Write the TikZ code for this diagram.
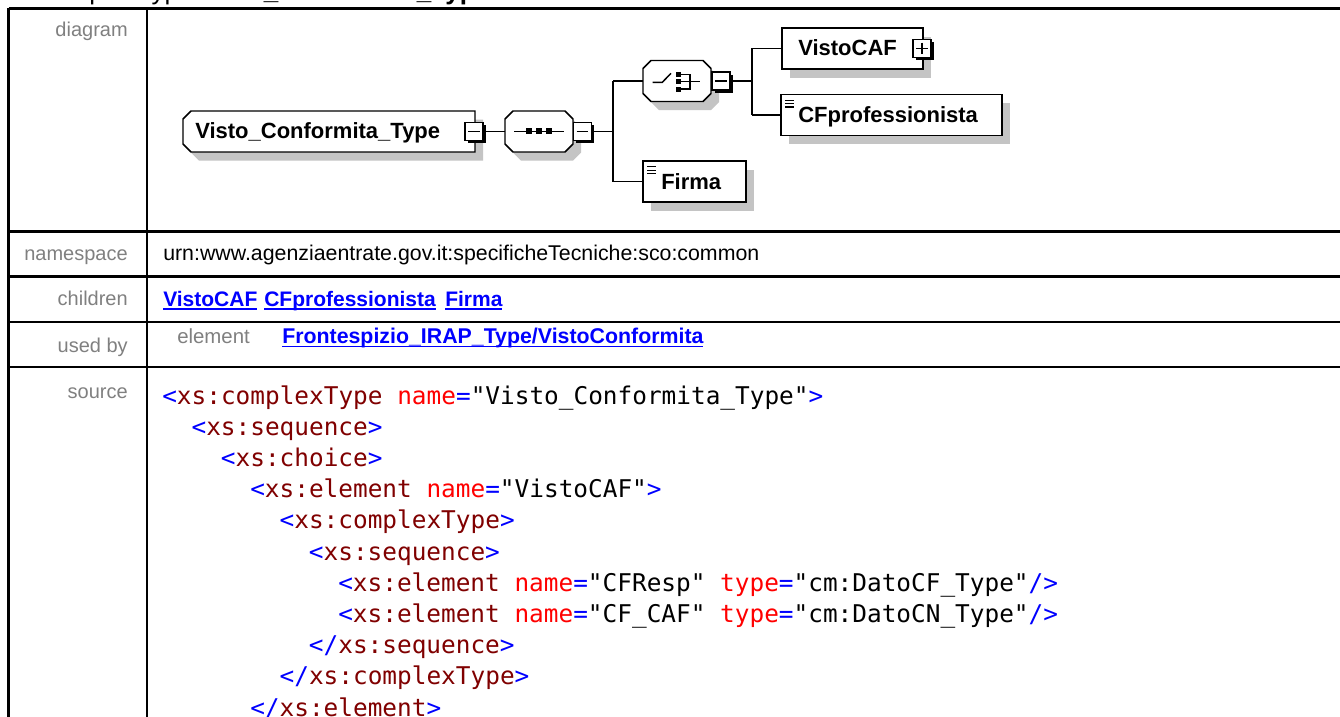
\documentclass[tikz,border=0pt]{standalone}
\usepackage{fontspec}
\setmainfont{Liberation Sans}
\setmonofont{DejaVu Sans Mono}
\usetikzlibrary{shadows}
\definecolor{lblgray}{RGB}{128,128,128}
\definecolor{lnkblue}{RGB}{0,0,255}
\definecolor{tagblue}{RGB}{0,0,255}
\definecolor{elmred}{RGB}{128,0,0}
\definecolor{attred}{RGB}{255,0,0}
\definecolor{shadowgray}{RGB}{196,196,196}
\newsavebox\lnkbox
\newcommand\lnk[1]{\sbox\lnkbox{#1}\rlap{\rule[-2.7pt]{\wd\lnkbox}{1.1pt}}\usebox\lnkbox}
\newcommand\Tg[1]{\textcolor{tagblue}{#1}}
\newcommand\En[1]{\textcolor{elmred}{#1}}
\newcommand\At[1]{\textcolor{attred}{#1}}
% chamfered outline: x1 y1 x2 y2 left-chamfer right-chamfer
\newcommand\chamfpath[6]{({#1+#5},#2) -- ({#3-#6},#2) -- (#3,{#2+#6}) -- (#3,{#4-#6}) -- ({#3-#6},#4) -- ({#1+#5},#4) -- (#1,{#4-#5}) -- (#1,{#2+#5}) -- cycle}
\tikzset{
  tbl/.style={line width=1.8pt},
  lbl/.style={anchor=base east, inner sep=0, text=lblgray, font=\fontsize{15}{18}\selectfont},
  cell/.style={anchor=base west, inner sep=0, font=\fontsize{16}{19}\selectfont},
  lnkstyle/.style={anchor=base west, inner sep=0, text=lnkblue, font=\bfseries\fontsize{15.75}{19}\selectfont},
  code/.style={anchor=base west, inner sep=0, font=\ttfamily\fontsize{18.3}{22}\selectfont},
  boxline/.style={line width=1.1pt},
  conn/.style={line width=1.1pt},
  shadowed/.style={drop shadow={fill=shadowgray, opacity=1, shadow xshift=6pt, shadow yshift=-6.5pt}},
  elembox/.style={rectangle, draw, boxline, fill=white, inner sep=0, shadowed},
  elemtext/.style={anchor=base west, inner sep=0, font=\bfseries\fontsize{16.5}{19}\selectfont},
  anchorbox/.style={rectangle, draw=none, inner sep=0},
  compshadow/.style={fill=shadowgray, shift={(8,8.7)}},
  compline/.style={boxline, fill=white},
  pm/.style={rectangle, draw, boxline, fill=white, minimum size=13.3pt, inner sep=0,
    drop shadow={fill=black, opacity=1, shadow xshift=2pt, shadow yshift=-2pt}},
  minusbox/.style={pm, path picture={\draw[line width=1.1pt] ([xshift=2.3pt]path picture bounding box.west) -- ([xshift=-2.3pt]path picture bounding box.east);}},
  plusbox/.style={pm, path picture={\draw[line width=1.1pt] ([xshift=2.3pt]path picture bounding box.west) -- ([xshift=-2.3pt]path picture bounding box.east);
      \draw[line width=1.1pt] ([yshift=-2.3pt]path picture bounding box.north) -- ([yshift=2.3pt]path picture bounding box.south);}},
  simpletype/.style={path picture={
      \foreach \dy in {4.3pt,6.9pt,9.5pt}{\draw[line width=1pt] ([xshift=3pt,yshift=-\dy]path picture bounding box.north west) -- ++(7pt,0);}}},
}
\begin{document}
\begin{tikzpicture}[x=0.75pt,y=-0.75pt]
\useasboundingbox (0,0) rectangle (1340,717);
\fill[white] (0,0) rectangle (1340,717);

% header (mostly cut off)
\node[anchor=base west, inner sep=0, font=\fontsize{19.5}{23}\selectfont] (hdr) at (40,-0.5) {complexType \textbf{Visto\_Conformita\_Type}};

% table
\draw[tbl] (8.5,8.5) -- (1345,8.5);
\draw[tbl] (8.5,7.6) -- (8.5,720);
\draw[tbl] (147,8.5) -- (147,720);
\draw[tbl] (8.5,231.5) -- (1345,231.5);
\draw[tbl] (8.5,276.5) -- (1345,276.5);
\draw[tbl] (8.5,322) -- (1345,322);
\draw[tbl] (8.5,367) -- (1345,367);

% labels
\node[lbl] (l-diagram) at (128,37) {diagram};
\node[lbl] (l-ns) at (128,260) {namespace};
\node[lbl] (l-children) at (128,305.5) {children};
\node[lbl] (l-usedby) at (128,352) {used by};
\node[lbl] (l-source) at (128,398) {source};

% content cells
\node[cell] (ns) at (163,260) {urn:www.agenziaentrate.gov.it:specificheTecniche:sco:common};
\node[lnkstyle] (ch1) at (163,306) {\lnk{VistoCAF}};
\node[lnkstyle] (ch2) at (264,306) {\lnk{CFprofessionista}};
\node[lnkstyle] (ch3) at (445,306) {\lnk{Firma}};
\node[anchor=base west, inner sep=0, text=lblgray, font=\fontsize{15.3}{18}\selectfont] (ub-el) at (177,343) {element};
\node[lnkstyle, font=\bfseries\fontsize{16}{19}\selectfont] (ub-lnk) at (282,343.5) {\lnk{Frontespizio\_IRAP\_Type/VistoConformita}};

% source code
\node[code] (c1) at (162,404) {\Tg{<}\En{xs:complexType} \At{name}\Tg{=}"Visto\_Conformita\_Type"\Tg{>}};
\node[code] (c2) at (191.3,435.2) {\Tg{<}\En{xs:sequence}\Tg{>}};
\node[code] (c3) at (220.7,466.4) {\Tg{<}\En{xs:choice}\Tg{>}};
\node[code] (c4) at (250,497.6) {\Tg{<}\En{xs:element} \At{name}\Tg{=}"VistoCAF"\Tg{>}};
\node[code] (c5) at (279.4,528.8) {\Tg{<}\En{xs:complexType}\Tg{>}};
\node[code] (c6) at (308.7,560) {\Tg{<}\En{xs:sequence}\Tg{>}};
\node[code] (c7) at (338,591.2) {\Tg{<}\En{xs:element} \At{name}\Tg{=}"CFResp" \At{type}\Tg{=}"cm:DatoCF\_Type"\Tg{/>}};
\node[code] (c8) at (338,622.4) {\Tg{<}\En{xs:element} \At{name}\Tg{=}"CF\_CAF" \At{type}\Tg{=}"cm:DatoCN\_Type"\Tg{/>}};
\node[code] (c9) at (308.7,653.6) {\Tg{</}\En{xs:sequence}\Tg{>}};
\node[code] (c10) at (279.4,684.8) {\Tg{</}\En{xs:complexType}\Tg{>}};
\node[code] (c11) at (250,716) {\Tg{</}\En{xs:element}\Tg{>}};

% ---- diagram ----
% root complex type (chamfered on the left)
\fill[compshadow] \chamfpath{183}{111}{475}{152}{8}{0};
\filldraw[compline] \chamfpath{183}{111}{475}{152}{8}{0};
\node[anchorbox, minimum width=219pt, minimum height=30.75pt] (root) at (329,131.5) {};
\node[elemtext] (root-t) at (195,138) {Visto\_Conformita\_Type};
\node[minusbox] (rootminus) at (474,131.5) {};

% sequence compositor
\fill[compshadow] \chamfpath{505}{111}{573}{152}{8}{8};
\filldraw[compline] \chamfpath{505}{111}{573}{152}{8}{8};
\node[anchorbox, minimum width=51pt, minimum height=30.75pt] (seq) at (539,131.5) {};
\node[minusbox] (seqminus) at (582.5,131.5) {};
\begin{scope}[shift={(seq.center)}]
  \draw[line width=1.1pt] (-25,0) -- (25,0);
  \foreach \dx in {-10,0,10} \fill (\dx-3,-3) rectangle (\dx+3,3);
\end{scope}

% choice compositor
\fill[compshadow] \chamfpath{643}{60.5}{711}{101.5}{8}{8};
\filldraw[compline] \chamfpath{643}{60.5}{711}{101.5}{8}{8};
\node[anchorbox, minimum width=51pt, minimum height=30.75pt] (choice) at (677,81) {};
\node[minusbox] (choiceminus) at (721,81) {};
\begin{scope}[shift={(choice.center)}]
  \draw[line width=1.1pt] (-24.3,1.3) -- (-14.7,1.3) -- (-6,-7.7);
  \foreach \dy in {-6.7,0.3,8.2} \fill (-0.8,\dy-2.5) rectangle (4.2,\dy+2.5);
  \draw[line width=1.1pt] (4,-6.7) -- (13,-6.7) -- (13,8.2) -- (4,8.2);
  \draw[line width=1.1pt] (4,0.3) -- (23,0.3);
\end{scope}

% elements
\node[elembox, minimum width=105.75pt, minimum height=30.75pt] (vistocaf) at (852.5,48.5) {};
\node[elemtext] (vistocaf-t) at (798,56) {VistoCAF};
\node[plusbox] (vistoplus) at (922,48.5) {};

\node[elembox, simpletype, minimum width=165.75pt, minimum height=30.75pt] (cfprof) at (891.5,115) {};
\node[elemtext] (cfprof-t) at (798,122.5) {CFprofessionista};

\node[elembox, simpletype, minimum width=77.25pt, minimum height=30.75pt] (firma) at (694.5,181.5) {};
\node[elemtext] (firma-t) at (661,189.5) {Firma};

% connectors
\coordinate (j1top) at (613,81);
\coordinate (j1bot) at (613,181.5);
\coordinate (j2top) at (752,48.5);
\coordinate (j2bot) at (752,115);

\draw[conn] (rootminus.east) -- (seq.west);
\draw[conn] (seqminus.east) -- (seqminus.east -| j1top);
\draw[conn] (j1top) -- (j1bot);
\draw[conn] (j1top) -- (choice.west);
\draw[conn] (j1bot) -- (firma.west);
\draw[conn] (choiceminus.east) -- (choiceminus.east -| j2top);
\draw[conn] (j2top) -- (j2bot);
\draw[conn] (j2top) -- (vistocaf.west);
\draw[conn] (j2bot) -- (cfprof.west);
\end{tikzpicture}
\end{document}
